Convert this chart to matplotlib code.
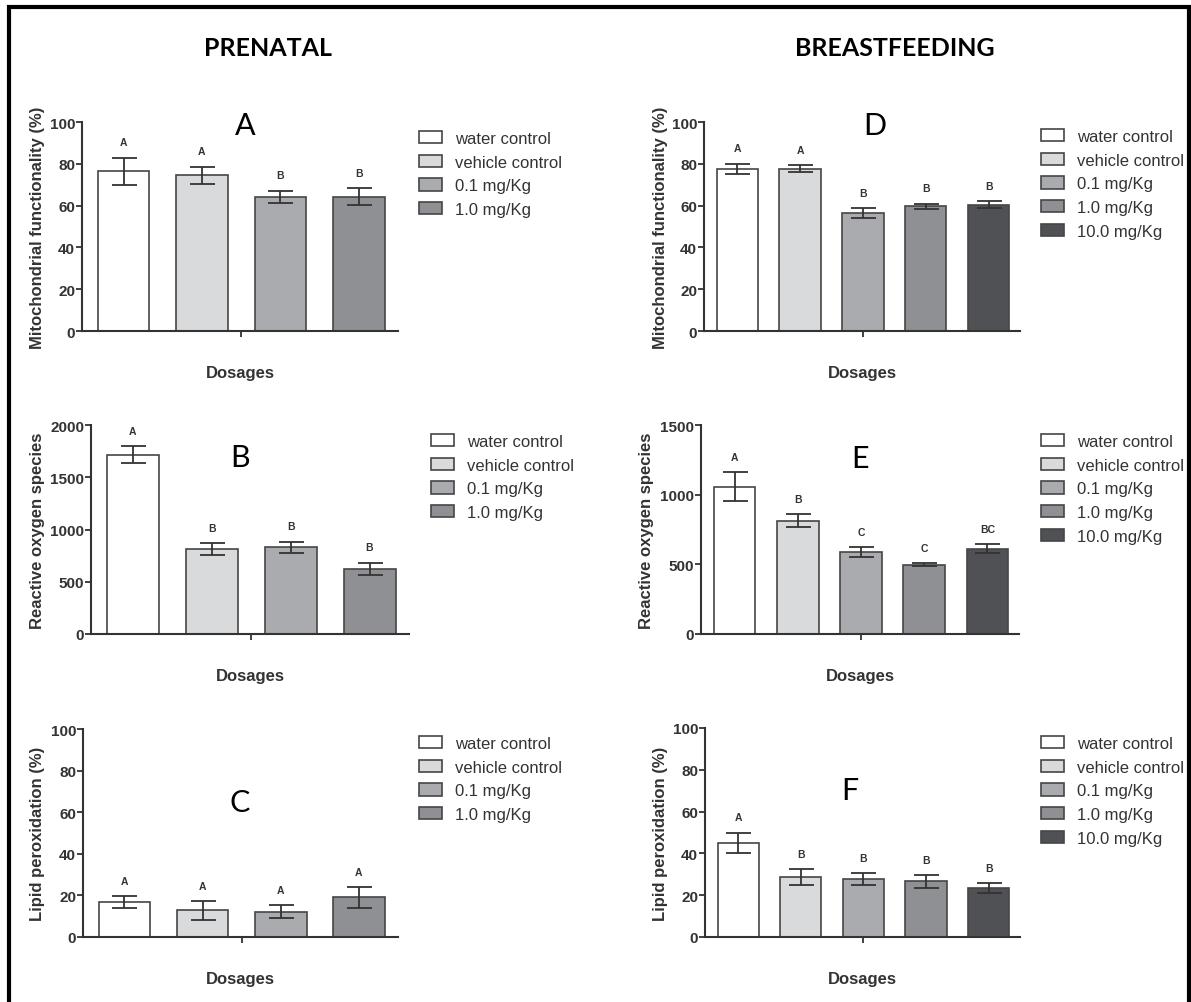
import matplotlib.pyplot as plt
from matplotlib.patches import Rectangle

plt.rcParams['font.family'] = ['Liberation Sans', 'DejaVu Sans']

groups_pre = ['water control', 'vehicle control', '0.1 mg/Kg', '1.0 mg/Kg']
groups_bf = ['water control', 'vehicle control', '0.1 mg/Kg', '1.0 mg/Kg', '10.0 mg/Kg']
colors = ['#ffffff', '#d9dadc', '#aaabaf', '#8f9094', '#505154']

# prenatal
mito_pre = [76.5, 74.5, 64.2, 64.2]
mito_pre_err = [6.5, 4.2, 3.0, 4.0]
mito_pre_sig = ['A', 'A', 'B', 'B']
ros_pre = [1715, 812, 830, 622]
ros_pre_err = [80, 55, 55, 60]
ros_pre_sig = ['A', 'B', 'B', 'B']
lipid_pre = [16.8, 12.8, 12.2, 19.0]
lipid_pre_err = [2.8, 4.6, 3.0, 5.0]
lipid_pre_sig = ['A', 'A', 'A', 'A']

# breastfeeding
mito_bf = [77.7, 77.7, 56.5, 59.7, 60.5]
mito_bf_err = [2.4, 1.5, 2.3, 1.3, 1.6]
mito_bf_sig = ['A', 'A', 'B', 'B', 'B']
ros_bf = [1058, 814, 588, 497, 612]
ros_bf_err = [103, 48, 35, 12, 32]
ros_bf_sig = ['A', 'B', 'C', 'C', 'BC']
lipid_bf = [45.0, 28.7, 27.6, 26.6, 23.4]
lipid_bf_err = [5.0, 3.7, 2.9, 3.0, 2.5]
lipid_bf_sig = ['A', 'B', 'B', 'B', 'B']

W, H = 1191, 1003
fig = plt.figure(figsize=(W / 100, H / 100), dpi=100)


def px_rect(l, t, r, b):
    return [l / W, 1 - b / H, (r - l) / W, (b - t) / H]


# (axes px box, legend anchor px, panel letter px, data)
panels = [
    ((82, 123, 398, 332), (419, 132), ('A', 245, 135), groups_pre, mito_pre, mito_pre_err, mito_pre_sig,
     'Mitochondrial functionality (%)', (0, 100), range(0, 101, 20)),
    ((91, 426, 409, 635), (431, 435), ('B', 240, 467), groups_pre, ros_pre, ros_pre_err, ros_pre_sig,
     'Reactive oxygen species', (0, 2000), range(0, 2001, 500)),
    ((83, 730, 398, 938), (419, 737), ('C', 240, 812), groups_pre, lipid_pre, lipid_pre_err, lipid_pre_sig,
     'Lipid peroxidation (%)', (0, 100), range(0, 101, 20)),
    ((704, 123, 1020, 332), (1041, 130), ('D', 875, 135), groups_bf, mito_bf, mito_bf_err, mito_bf_sig,
     'Mitochondrial functionality (%)', (0, 100), range(0, 101, 20)),
    ((701, 426, 1019, 635), (1041, 435), ('E', 860, 468), groups_bf, ros_bf, ros_bf_err, ros_bf_sig,
     'Reactive oxygen species', (0, 1500), range(0, 1501, 500)),
    ((705, 729, 1020, 938), (1041, 737), ('F', 850, 800), groups_bf, lipid_bf, lipid_bf_err, lipid_bf_sig,
     'Lipid peroxidation (%)', (0, 100), range(0, 101, 20)),
]

label_x = {82: 45, 91: 45, 83: 45, 704: 668, 701: 654, 705: 668}

for box, leg_xy, letter, groups, vals, errs, sig, ylabel, ylim, yticks in panels:
    ax = fig.add_axes(px_rect(*box))
    n = len(vals)
    x = list(range(n))
    ax.bar(x, vals, width=0.66, color=colors[:n], edgecolor='#454545', linewidth=1.2,
           label=groups, zorder=2)
    ax.errorbar(x, vals, yerr=errs, fmt='none', ecolor='#333333', elinewidth=1.3,
                capsize=9, capthick=1.3, zorder=3)
    for xi, v, e, s in zip(x, vals, errs, sig):
        ax.annotate(s, (xi, v + e), xytext=(0, 11), textcoords='offset points',
                    ha='center', va='center', fontsize=7.5, fontweight='bold', color='#333333')
    ax.set_xlim(-0.53, n - 0.5)
    ax.set_ylim(*ylim)
    ax.set_yticks(list(yticks))
    ax.set_xticks([(n - 1) / 2])
    ax.set_xticklabels([''])
    for sp in ['top', 'right']:
        ax.spines[sp].set_visible(False)
    for sp in ['left', 'bottom']:
        ax.spines[sp].set_linewidth(1.5)
        ax.spines[sp].set_color('#333333')
    ax.tick_params(axis='y', length=4, width=1.3, color='#333333', labelsize=11, pad=1)
    ax.tick_params(axis='x', length=4, width=1.3, color='#333333')
    for t in ax.get_yticklabels():
        t.set_fontweight('bold')
        t.set_color('#333333')
    ax.set_ylabel(ylabel, fontsize=12, fontweight='bold', color='#333333')
    ax.yaxis.set_label_coords((label_x[box[0]] - box[0]) / (box[2] - box[0]), 0.5)
    ax.set_xlabel('Dosages', fontsize=12, fontweight='bold', color='#333333')
    ax.xaxis.set_label_coords(0.5, -0.165)

    leg = ax.legend(loc='upper left', bbox_to_anchor=(leg_xy[0] / W, 1 - leg_xy[1] / H),
                    bbox_transform=fig.transFigure, frameon=False, fontsize=12,
                    handlelength=1.38, handleheight=0.76, handletextpad=0.8,
                    labelspacing=0.52, borderpad=0, borderaxespad=0)
    for t in leg.get_texts():
        t.set_color('#333333')

    fig.text(letter[1] / W, 1 - letter[2] / H, letter[0], family='Lato', fontsize=22,
             ha='center', va='baseline', color='black')

fig.text(204 / W, 1 - 56 / H, 'PRENATAL', family='Lato', fontweight='bold', fontsize=18,
         ha='left', va='baseline')
fig.text(995 / W, 1 - 56 / H, 'BREASTFEEDING', family='Lato', fontweight='bold', fontsize=18,
         ha='right', va='baseline')

border = Rectangle((8.5 / W, -0.02), (1188.5 - 8.5) / W, 1.02 - 7.5 / H,
                   transform=fig.transFigure, fill=False, edgecolor='black', linewidth=3)
fig.add_artist(border)

plt.savefig('out.png', dpi=100)
